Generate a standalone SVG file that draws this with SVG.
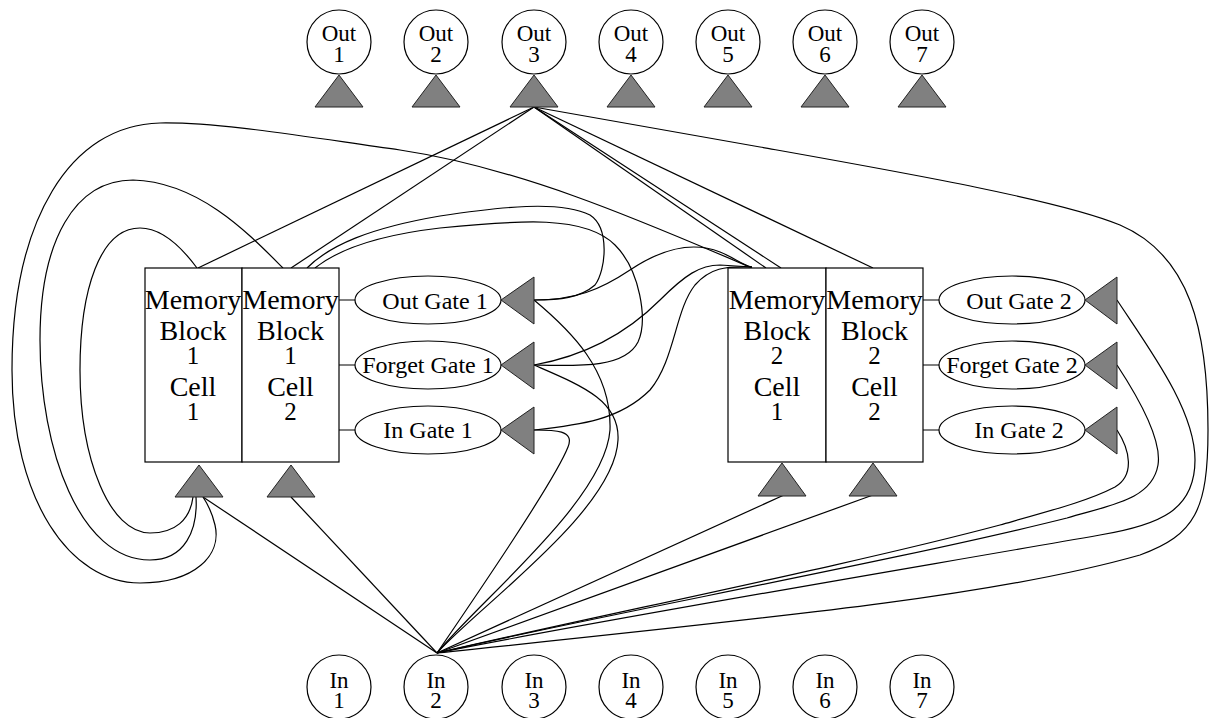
<svg xmlns="http://www.w3.org/2000/svg" width="1213" height="718" viewBox="0 0 1213 718">
<style>
.c{fill:#fff;stroke:#000;stroke-width:1.2}
.tri{fill:#808080;stroke:#222;stroke-width:1}
.e{fill:none;stroke:#000;stroke-width:1.2}
text{font-family:"Liberation Serif","Times New Roman",serif;fill:#000;text-anchor:middle}
.io{font-size:23px}
.cell{font-size:28px}
.d{font-size:25px}
.g{font-size:24px}
</style>
<rect width="1213" height="718" fill="#fff"/>
<g id="connectors" class="e">
<path d="M534,107 L198,268"/>
<path d="M534,107 L291,268"/>
<path d="M534,107 L766,268"/>
<path d="M534,107 L781,268"/>
<path d="M534,107 L873,268"/>
<path d="M534,107 L760,147 C900,172 1060,200 1120,225 C1190,255 1208,330 1208,430 C1208,510 1195,535 1140,555 C1000,595 800,615 437,653"/>
<path d="M1117,300 C1150,350 1195,410 1195,460 C1195,510 1160,525 1100,535 C900,570 600,620 437,653"/>
<path d="M1117,365 C1140,400 1162,440 1158,465 C1152,500 1110,505 1067,518 C900,560 600,615 437,653"/>
<path d="M1117,430 C1130,450 1135,475 1115,487 C1090,500 1060,508 1000,525 C850,565 600,615 437,653"/>
<path d="M534,300 C575,300 600,290 630,270 C660,250 690,240 720,252 C735,258 742,265 752,267"/>
<path d="M534,365 C590,355 630,330 660,300 C685,275 700,265 720,265 L752,267"/>
<path d="M534,430 C580,425 620,420 650,390 C675,360 675,310 695,285 C710,268 725,266 752,267"/>
<path d="M307,268 C330,245 370,228 440,216 C500,207 560,200 590,215 C610,228 606,270 595,285 C580,298 560,300 534,300"/>
<path d="M315,268 C340,248 380,235 440,228 C520,220 585,215 615,245 C640,270 648,320 638,342 C625,368 580,366 534,365"/>
<path d="M534,300 C570,330 612,370 610,430 C605,500 480,600 437,653"/>
<path d="M534,365 C580,385 620,400 618,440 C615,510 480,605 437,653"/>
<path d="M534,430 C555,430 575,430 568,447 C555,480 480,590 437,653"/>
<path d="M437,653 L203,497"/>
<path d="M437,653 L291,497"/>
<path d="M437,653 L784,495"/>
<path d="M437,653 L873,495"/>
<path d="M752,268 C640,220 520,168 400,150 C300,136 220,122 160,123 C70,125 12,220 12,370 C12,500 70,583 140,583 C195,583 222,555 215,525 C212,512 207,503 203,497"/>
<path d="M283,268 C250,235 200,182 133,180 C75,180 40,240 40,340 C40,450 80,560 150,560 C185,560 198,530 196,497"/>
<path d="M197,268 C180,245 160,228 140,228 C100,228 80,290 80,370 C80,460 110,533 150,533 C175,533 190,520 193,497"/>
<path d="M339,300 H356 M339,365 H355 M339,430 H356"/>
<path d="M923,300 H939 M923,365 H939 M923,430 H939"/>
</g>
<g id="out1"><circle class="c" cx="339" cy="42" r="32"/><text class="io" x="339" y="41">Out<tspan x="339" dy="21">1</tspan></text><polygon class="tri" points="339,75 315,107 363,107"/></g>
<g id="out2"><circle class="c" cx="436" cy="42" r="32"/><text class="io" x="436" y="41">Out<tspan x="436" dy="21">2</tspan></text><polygon class="tri" points="436,75 412,107 460,107"/></g>
<g id="out3"><circle class="c" cx="534" cy="42" r="32"/><text class="io" x="534" y="41">Out<tspan x="534" dy="21">3</tspan></text><polygon class="tri" points="534,75 510,107 558,107"/></g>
<g id="out4"><circle class="c" cx="631" cy="42" r="32"/><text class="io" x="631" y="41">Out<tspan x="631" dy="21">4</tspan></text><polygon class="tri" points="631,75 607,107 655,107"/></g>
<g id="out5"><circle class="c" cx="728" cy="42" r="32"/><text class="io" x="728" y="41">Out<tspan x="728" dy="21">5</tspan></text><polygon class="tri" points="728,75 704,107 752,107"/></g>
<g id="out6"><circle class="c" cx="825" cy="42" r="32"/><text class="io" x="825" y="41">Out<tspan x="825" dy="21">6</tspan></text><polygon class="tri" points="825,75 801,107 849,107"/></g>
<g id="out7"><circle class="c" cx="922" cy="42" r="32"/><text class="io" x="922" y="41">Out<tspan x="922" dy="21">7</tspan></text><polygon class="tri" points="922,75 898,107 946,107"/></g>
<g id="in1"><circle class="c" cx="339" cy="687" r="32"/><text class="io" x="339" y="688">In<tspan x="339" dy="20">1</tspan></text></g>
<g id="in2"><circle class="c" cx="436" cy="687" r="32"/><text class="io" x="436" y="688">In<tspan x="436" dy="20">2</tspan></text></g>
<g id="in3"><circle class="c" cx="534" cy="687" r="32"/><text class="io" x="534" y="688">In<tspan x="534" dy="20">3</tspan></text></g>
<g id="in4"><circle class="c" cx="631" cy="687" r="32"/><text class="io" x="631" y="688">In<tspan x="631" dy="20">4</tspan></text></g>
<g id="in5"><circle class="c" cx="728" cy="687" r="32"/><text class="io" x="728" y="688">In<tspan x="728" dy="20">5</tspan></text></g>
<g id="in6"><circle class="c" cx="825" cy="687" r="32"/><text class="io" x="825" y="688">In<tspan x="825" dy="20">6</tspan></text></g>
<g id="in7"><circle class="c" cx="922" cy="687" r="32"/><text class="io" x="922" y="688">In<tspan x="922" dy="20">7</tspan></text></g>
<g id="b1c1"><rect class="c" x="145" y="268" width="97" height="194"/><text class="cell" x="193" y="309">Memory<tspan x="193" dy="31">Block</tspan><tspan class="d" x="193" dy="24">1</tspan><tspan x="193" dy="32">Cell</tspan><tspan class="d" x="193" dy="24">1</tspan></text><polygon class="tri" points="199,465 175,497 223,497"/></g>
<g id="b1c2"><rect class="c" x="242" y="268" width="97" height="194"/><text class="cell" x="290.5" y="309">Memory<tspan x="290.5" dy="31">Block</tspan><tspan class="d" x="290.5" dy="24">1</tspan><tspan x="290.5" dy="32">Cell</tspan><tspan class="d" x="290.5" dy="24">2</tspan></text><polygon class="tri" points="291,465 267,497 315,497"/></g>
<g id="b2c1"><rect class="c" x="728" y="268" width="98" height="194"/><text class="cell" x="777" y="309">Memory<tspan x="777" dy="31">Block</tspan><tspan class="d" x="777" dy="24">2</tspan><tspan x="777" dy="32">Cell</tspan><tspan class="d" x="777" dy="24">1</tspan></text><polygon class="tri" points="782,463 758,496 806,496"/></g>
<g id="b2c2"><rect class="c" x="826" y="268" width="97" height="194"/><text class="cell" x="874.5" y="309">Memory<tspan x="874.5" dy="31">Block</tspan><tspan class="d" x="874.5" dy="24">2</tspan><tspan x="874.5" dy="32">Cell</tspan><tspan class="d" x="874.5" dy="24">2</tspan></text><polygon class="tri" points="873,463 849,496 897,496"/></g>
<g id="outgate1"><ellipse class="c" cx="428" cy="300" rx="73" ry="24"/><text class="g" x="435" y="309">Out Gate 1</text><polygon class="tri" points="501,300 534,277 534,324"/></g>
<g id="forgetgate1"><ellipse class="c" cx="428" cy="365" rx="73" ry="24"/><text class="g" x="428" y="373">Forget Gate 1</text><polygon class="tri" points="501,365 534,342 534,389"/></g>
<g id="ingate1"><ellipse class="c" cx="428" cy="430" rx="73" ry="24"/><text class="g" x="428" y="438">In Gate 1</text><polygon class="tri" points="501,430 534,407 534,454"/></g>
<g id="outgate2"><ellipse class="c" cx="1012" cy="300" rx="73" ry="24"/><text class="g" x="1019" y="309">Out Gate 2</text><polygon class="tri" points="1085,300 1117,277 1117,324"/></g>
<g id="forgetgate2"><ellipse class="c" cx="1012" cy="365" rx="73" ry="24"/><text class="g" x="1012" y="373">Forget Gate 2</text><polygon class="tri" points="1085,365 1117,342 1117,389"/></g>
<g id="ingate2"><ellipse class="c" cx="1012" cy="430" rx="73" ry="24"/><text class="g" x="1019" y="438">In Gate 2</text><polygon class="tri" points="1085,430 1117,407 1117,454"/></g>
</svg>
